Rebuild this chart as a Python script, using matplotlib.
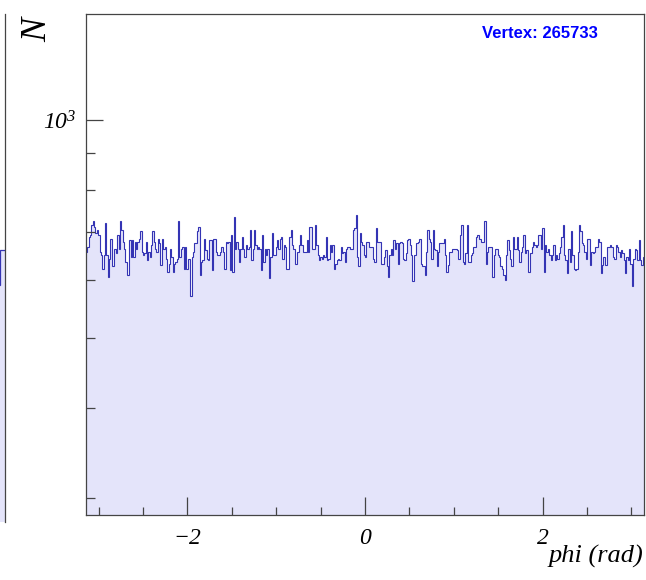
import numpy as np
import matplotlib.pyplot as plt
from matplotlib.ticker import FixedLocator, MultipleLocator, LogLocator, NullFormatter, FuncFormatter

# bin contents, left to right (phi from -pi to +pi)
counts_seg1 = [657, 668, 689, 693, 716, 724, 712, 697, 705, 693,
               657, 650, 623, 650, 720, 650, 607, 643, 685, 627,
               627, 664, 654, 693, 664, 724, 705, 678, 664, 636,
               611, 611, 682, 647, 682, 647, 678, 664, 678, 685,
               701, 657, 650, 654, 678, 640, 657, 647, 671, 701,
               678, 664, 657, 685, 675, 630, 685, 664, 668, 643,
               617, 633, 664, 647, 617, 633, 636]
counts_seg2 = [643, 724, 647, 664, 668, 623, 668, 623, 643,
               643, 570, 647, 657, 675, 675, 701, 712, 611, 636,
               640, 685, 661, 643, 640, 682, 682, 620, 685, 685,
               657, 650, 650, 657, 668, 657, 623, 678, 675, 678,
               620, 693, 617, 735, 664, 678, 664, 636, 664, 689,
               664, 647, 671, 664, 668, 705, 640, 664, 705, 671,
               664, 668, 664, 620, 693, 636, 664, 650, 664, 604]
counts_seg3 = [647, 697, 650, 650, 668, 682, 664, 685, 689, 643,
               671, 668, 623, 623, 689, 705, 671, 664, 633, 633,
               657, 671, 693, 671, 657, 657, 657, 682, 657, 712,
               712, 664, 664, 716, 671, 650, 640, 647, 643, 650,
               647, 689, 640, 643, 671, 657, 671, 623, 633, 640,
               643, 640, 668, 654, 657, 636, 664, 668, 668, 664,
               664, 705, 708, 738, 647, 627, 697, 678, 671]
counts_seg4 = [650, 647, 678, 678, 668, 668, 668, 643, 636, 708,
               678, 678, 678, 633, 633, 647, 661, 627, 607, 650,
               664, 650, 682, 664, 675, 633, 675, 678, 675, 643,
               640, 654, 682, 685, 671, 650, 598, 650, 650, 675,
               678, 685, 633, 627, 627, 611, 657, 705, 685, 678,
               643, 705, 664, 661, 627, 657, 675, 675, 675, 685,
               650, 617, 630, 657, 657, 664, 664, 664, 664]
counts_seg5 = [661, 643, 693, 716, 636, 633, 654, 716, 636,
               636, 650, 654, 668, 668, 689, 693, 685, 685, 678,
               678, 724, 633, 657, 668, 668, 668, 607, 650, 664,
               664, 650, 647, 627, 623, 611, 601, 650, 682, 661,
               643, 627, 689, 664, 664, 689, 661, 636, 657, 668,
               693, 654, 661, 617, 617, 654, 668, 678, 671, 668,
               671, 693, 693, 664, 708, 617, 671, 657, 664, 650]
counts_seg6 = [640, 650, 671, 640, 650, 643, 654, 668, 689,
               716, 650, 640, 614, 664, 636, 701, 650, 623, 620,
               623, 657, 716, 701, 675, 671, 657, 643, 685, 685,
               630, 657, 654, 657, 668, 668, 685, 678, 614, 630,
               647, 630, 630, 668, 668, 671, 668, 647, 643, 671,
               668, 657, 647, 661, 654, 640, 614, 647, 640, 664,
               633, 589, 643, 664, 661, 640, 682, 640, 630, 647]

# last two bins of the neighbouring pad, cut off at the left border
left_tail = [598, 667]

x_major = [-2, 0, 2]
xlabel = 'phi (rad)'
ylabel = 'N'
vertex_label = 'Vertex: 265733'

counts = counts_seg1 + counts_seg2 + counts_seg3 + counts_seg4 + counts_seg5 + counts_seg6
edges = np.linspace(-np.pi, np.pi, len(counts) + 1)

plt.rcParams['font.family'] = ['Liberation Serif', 'DejaVu Serif']
plt.rcParams['font.style'] = 'italic'
plt.rcParams['mathtext.fontset'] = 'custom'
plt.rcParams['mathtext.rm'] = 'Liberation Serif:italic'
plt.rcParams['mathtext.it'] = 'Liberation Serif:italic'

fill_col = '#e4e4fa'
line_col = '#3434b4'
frame_col = '#444444'

W, H = 646.0, 580.0
fig = plt.figure(figsize=(6.46, 5.8), dpi=100)

# main pad
ax = fig.add_axes([86 / W, 1 - 515 / H, (644 - 86) / W, (515 - 14) / H])
ax.stairs(counts, edges, fill=True, baseline=1, color=fill_col, lw=0)
ax.stairs(counts, edges, baseline=None, color=line_col, lw=0.8)
ax.set_yscale('log')
ax.set_ylim(284, 1402)
ax.set_xlim(-np.pi, np.pi)

ax.xaxis.set_major_locator(FixedLocator(x_major))
ax.xaxis.set_minor_locator(MultipleLocator(0.5))
ax.yaxis.set_major_locator(LogLocator(base=10))
ax.yaxis.set_minor_locator(LogLocator(base=10, subs=np.arange(2, 10)))
ax.yaxis.set_minor_formatter(NullFormatter())
ax.yaxis.set_major_formatter(FuncFormatter(lambda v, p: r'$10^{%d}$' % round(np.log10(v))))

ax.tick_params(axis='both', which='both', direction='in', color=frame_col, width=0.9,
               top=False, right=False, labelsize=17)
ax.tick_params(axis='x', which='major', length=13, pad=9)
ax.tick_params(axis='x', which='minor', length=6)
ax.tick_params(axis='y', which='major', length=12.5, pad=7)
ax.tick_params(axis='y', which='minor', length=6.5)
for s in ax.spines.values():
    s.set_color(frame_col)
    s.set_linewidth(0.9)

fig.text(38 / W, 1 - 30 / H, ylabel, rotation=90, fontsize=26, ha='center', va='center')
fig.text(643 / W, 1 - 556 / H, xlabel, ha='right', va='center', fontsize=19)
fig.text(540 / W, 1 - 33 / H, vertex_label, ha='center', va='center', fontsize=12,
         family='Liberation Sans', style='normal', weight='bold', color='#0000ff')

# right edge of the neighbouring pad
ax0 = fig.add_axes([-4.5 / W, 1 - 522 / H, 9 / W, (522 - 14) / H])
ax0.stairs(left_tail, [0, 1, 2], fill=True, baseline=1, color=fill_col, lw=0)
ax0.stairs(left_tail, [0, 1, 2], baseline=None, color=line_col, lw=0.9)
ax0.set_yscale('log')
ax0.set_ylim(284, 1402)
ax0.set_xlim(0, 2)
ax0.set_xticks([])
ax0.set_yticks([])
ax0.minorticks_off()
for k in ['left', 'top', 'bottom']:
    ax0.spines[k].set_visible(False)
ax0.spines['right'].set_color(frame_col)
ax0.spines['right'].set_linewidth(0.9)

fig.savefig('out.png', dpi=100)
